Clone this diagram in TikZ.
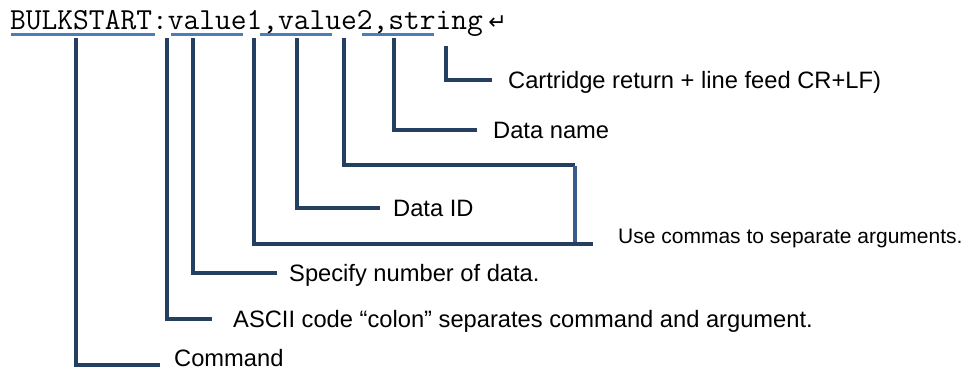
\documentclass[tikz,border=0pt]{standalone}
\usepackage{fontspec}
\setmainfont{Liberation Sans}
\newfontfamily\arrowfont{DejaVu Sans}
\definecolor{navy}{HTML}{243F60}
\definecolor{barblue}{HTML}{385D8A}
\definecolor{ulblue}{HTML}{4A7EBB}
\tikzset{
  conn/.style={draw=navy, line width=4pt},
  lab/.style={font=\fontsize{23.7}{24}\selectfont, text height=17pt, text depth=0pt, inner ysep=0pt, inner xsep=14pt, anchor=west},
  uline/.style={draw=ulblue, line width=3pt}
}
\begin{document}
\begin{tikzpicture}[x=1pt,y=-1pt]
        \useasboundingbox (0,0) rectangle (968,369);
        \node[font=\fontsize{30.6}{31}\selectfont\ttfamily, anchor=base west, inner sep=0pt] (cmdline) at (10,30) {BULKSTART:value1,value2,string};
        \node[font=\fontsize{22}{22}\selectfont\arrowfont, anchor=base west, inner sep=0pt] (ret) at ([xshift=5pt]cmdline.base east) {↵};
        \foreach \a/\b in {11/155, 171/243, 260/332, 362/434}
            \draw[uline] (\a,35) -- (\b,35);
        \foreach \n/\x in {cmd/76, colon/167, num/193, cb/253.5, id/296.5, ct/343.5, name/393.5}
            \coordinate (\n-top) at (\x,38);
        \coordinate (cr-top) at (446,46);
        \node[lab, inner xsep=16pt] (cr) at (492,79.5) {Cartridge return + line feed CR+LF)};
        \node[lab, inner xsep=16pt] (name) at (477,129.5) {Data name};
        \node[lab, inner xsep=13pt] (id) at (380,207.5) {Data ID};
        \node[lab, inner xsep=25pt, anchor=south west, font=\fontsize{21}{22}\selectfont] (commas) at (593,243.5) {Use commas to separate arguments.};
        \node[lab, inner xsep=12pt] (num) at (277,273) {Specify number of data.};
        \node[lab, inner xsep=21pt] (colon) at (212,319) {ASCII code “colon” separates command and argument.};
        \node[lab, inner xsep=14pt, anchor=base west] (cmd) at (160,366.5) {Command};
        \coordinate (bar-top) at (575,164.5);
        \coordinate (bar-bot) at (575,242);
        \draw[conn] (cr-top) |- (cr.west);
        \draw[conn] (name-top) |- (name.west);
        \draw[conn] (ct-top) |- (bar-top);
        \draw[conn] (id-top) |- (id.west);
        \draw[conn] (cb-top) |- (commas.south west);
        \draw[conn] (num-top) |- (num.west);
        \draw[conn] (colon-top) |- (colon.west);
        \draw[conn] (cmd-top) |- ([yshift=2pt]cmd.base west);
        \draw[draw=barblue, line width=4pt] ([yshift=-1.5pt]bar-top) -- (bar-bot);
    \end{tikzpicture}
\end{document}
